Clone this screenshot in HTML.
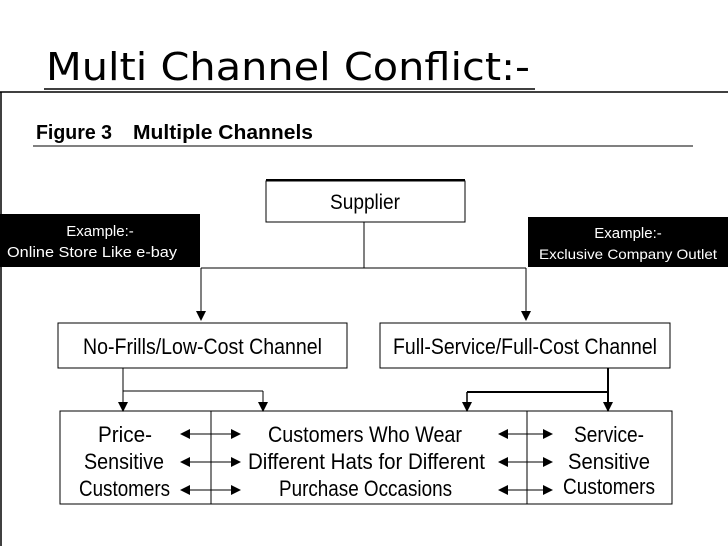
<!DOCTYPE html>
<html><head><style>
body{margin:0;width:728px;height:546px;background:#fff;overflow:hidden;position:relative;font-family:"Liberation Sans",sans-serif}
</style></head><body>
<svg width="728" height="546" style="position:absolute;left:0;top:0" font-family="Liberation Sans,sans-serif">
<defs><marker id="a" markerWidth="10" markerHeight="10" refX="9" refY="5" orient="auto" markerUnits="userSpaceOnUse"><path d="M0,0L10,5L0,10z"/></marker></defs>
<text x="46" y="80" font-family="Comic Sans MS,DejaVu Sans,sans-serif" font-size="38" textLength="484" lengthAdjust="spacingAndGlyphs">Multi Channel Conflict:-</text>
<line x1="44" y1="89" x2="535" y2="89" stroke="#000" stroke-width="1.5"/>
<line x1="0" y1="92" x2="728" y2="92" stroke="#000" stroke-width="1.5"/>
<line x1="1" y1="92" x2="1" y2="546" stroke="#000" stroke-width="1.5"/>
<text x="36" y="139" font-weight="bold" font-size="20" textLength="76" lengthAdjust="spacingAndGlyphs">Figure 3</text>
<text x="133" y="139" font-weight="bold" font-size="20" textLength="180" lengthAdjust="spacingAndGlyphs">Multiple Channels</text>
<line x1="33" y1="146" x2="693" y2="146" stroke="#000" stroke-width="1"/>
<rect x="266" y="181" width="199" height="41" fill="none" stroke="#000"/>
<line x1="266" y1="180" x2="465" y2="180" stroke="#000" stroke-width="2"/>
<text x="330" y="209" font-size="21" textLength="70" lengthAdjust="spacingAndGlyphs">Supplier</text>
<rect x="0" y="214" width="200" height="53" fill="#000"/>
<rect x="528" y="217" width="200" height="50" fill="#000"/>
<text x="100" y="236" text-anchor="middle" font-size="15" fill="#fff">Example:-</text>
<text x="7" y="257" font-size="15" fill="#fff" textLength="170" lengthAdjust="spacingAndGlyphs">Online Store Like e-bay</text>
<text x="628" y="238" text-anchor="middle" font-size="15" fill="#fff">Example:-</text>
<text x="539" y="259" font-size="14" fill="#fff" textLength="178" lengthAdjust="spacingAndGlyphs">Exclusive Company Outlet</text>
<g stroke="#000" fill="none">
<line x1="364" y1="222" x2="364" y2="268"/>
<line x1="201" y1="268" x2="526" y2="268"/>
<line x1="201" y1="268" x2="201" y2="320" marker-end="url(#a)"/>
<line x1="526" y1="268" x2="526" y2="320" marker-end="url(#a)"/>
<rect x="58" y="323" width="289" height="45"/>
<rect x="380" y="323" width="290" height="45"/>
<line x1="123" y1="368" x2="123" y2="411" marker-end="url(#a)"/>
<line x1="123" y1="391" x2="263" y2="391"/>
<line x1="263" y1="391" x2="263" y2="411" marker-end="url(#a)"/>
<line x1="608" y1="368" x2="608" y2="411" stroke-width="2" marker-end="url(#a)"/>
<line x1="467" y1="392" x2="608" y2="392" stroke-width="2"/>
<line x1="467" y1="392" x2="467" y2="411" stroke-width="1.5" marker-end="url(#a)"/>
<rect x="60" y="411" width="612" height="93"/>
<line x1="211" y1="411" x2="211" y2="504"/>
<line x1="527" y1="411" x2="527" y2="504"/>
</g>
<g font-size="22">
<text x="83" y="354" textLength="239" lengthAdjust="spacingAndGlyphs">No-Frills/Low-Cost Channel</text>
<text x="393" y="354" textLength="264" lengthAdjust="spacingAndGlyphs">Full-Service/Full-Cost Channel</text>
<text x="98" y="442" textLength="54" lengthAdjust="spacingAndGlyphs">Price-</text>
<text x="84" y="469" textLength="80" lengthAdjust="spacingAndGlyphs">Sensitive</text>
<text x="79" y="496" textLength="91" lengthAdjust="spacingAndGlyphs">Customers</text>
<text x="268" y="442" textLength="194" lengthAdjust="spacingAndGlyphs">Customers Who Wear</text>
<text x="248" y="469" textLength="237" lengthAdjust="spacingAndGlyphs">Different Hats for Different</text>
<text x="279" y="496" textLength="173" lengthAdjust="spacingAndGlyphs">Purchase Occasions</text>
<text x="574" y="442" textLength="70" lengthAdjust="spacingAndGlyphs">Service-</text>
<text x="568" y="469" textLength="82" lengthAdjust="spacingAndGlyphs">Sensitive</text>
<text x="563" y="494" textLength="92" lengthAdjust="spacingAndGlyphs">Customers</text>
</g>
<g stroke="#000">
<line x1="182" y1="434" x2="240" y2="434" marker-end="url(#a)"/>
<line x1="182" y1="462" x2="240" y2="462" marker-end="url(#a)"/>
<line x1="182" y1="490" x2="240" y2="490" marker-end="url(#a)"/>
<line x1="500" y1="434" x2="552" y2="434" marker-end="url(#a)"/>
<line x1="500" y1="462" x2="552" y2="462" marker-end="url(#a)"/>
<line x1="500" y1="490" x2="552" y2="490" marker-end="url(#a)"/>
</g>
<g>
<path d="M180,434L190,429L190,439z"/>
<path d="M180,462L190,457L190,467z"/>
<path d="M180,490L190,485L190,495z"/>
<path d="M498,434L508,429L508,439z"/>
<path d="M498,462L508,457L508,467z"/>
<path d="M498,490L508,485L508,495z"/>
</g>
</svg>
</body></html>
